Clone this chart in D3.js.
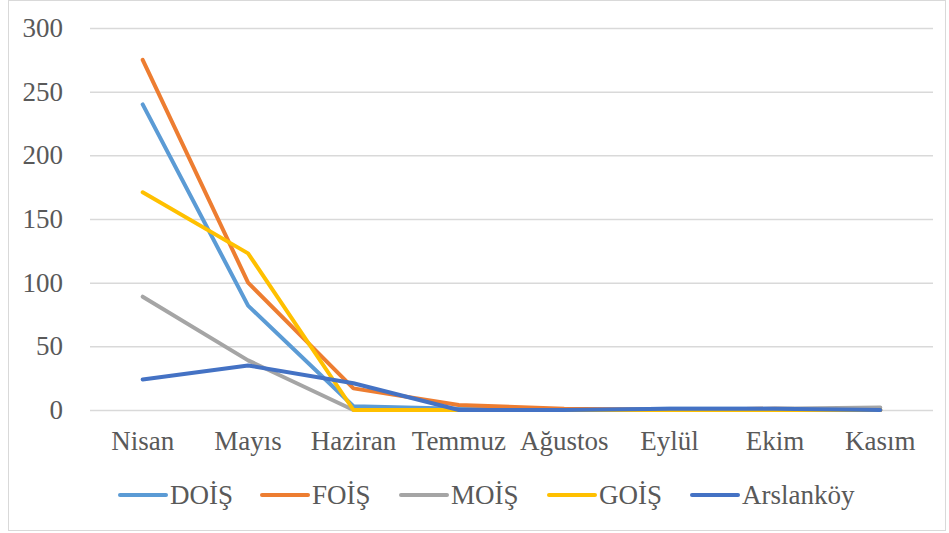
<!DOCTYPE html>
<html>
<head>
<meta charset="utf-8">
<script src="https://cdn.jsdelivr.net/npm/d3@7"></script>
<style>
  body { margin: 0; background: #fff; }
</style>
</head>
<body>
<svg id="chart" width="949" height="533"></svg>
<script>
"use strict";

var FONT = "Liberation Serif";

// months on the x axis
var months = ["Nisan", "Mayıs", "Haziran", "Temmuz", "Ağustos", "Eylül", "Ekim", "Kasım"];
var yTicks = [0, 50, 100, 150, 200, 250, 300];

// series names and values
var seriesNames = ["DOİŞ", "FOİŞ", "MOİŞ", "GOİŞ", "Arslanköy"];
var doisValues = [240, 82, 3, 1, 0, 1, 1, 0];
var foisValues = [275, 100, 17, 4, 1, 0, 1, 0];
var moisValues = [89, 39, 0, 0, 0, 0, 1, 2];
var goisValues = [171, 123, 0, 0, 0, 0, 0, 0];
var arslankoyValues = [24, 35, 21, 0, 0, 1, 1, 0];

var colors = ["#5B9BD5", "#ED7D31", "#A5A5A5", "#FFC000", "#4472C4"];

var series = seriesNames.map(function(name, i) {
  return { name: name, values: [doisValues, foisValues, moisValues, goisValues, arslankoyValues][i], color: colors[i] };
});

var svg = d3.select("#chart").attr("font-family", FONT);

// chart border
svg.append("rect")
  .attr("x", 8.5).attr("y", 0.5)
  .attr("width", 937).attr("height", 530)
  .attr("fill", "none")
  .attr("stroke", "#D9D9D9")
  .attr("stroke-width", 1);

var plotLeft = 90, plotRight = 933, plotTop = 28, plotBottom = 410;

var x = d3.scaleBand().domain(months).range([plotLeft, plotRight]);
var y = d3.scaleLinear().domain([0, 300]).range([plotBottom, plotTop]);

// gridlines + y labels
var yAxis = d3.axisLeft(y).tickValues(yTicks).tickSize(-(plotRight - plotLeft)).tickPadding(27);
var gy = svg.append("g").attr("transform", "translate(" + plotLeft + ",0)").call(yAxis);
gy.attr("font-family", FONT).attr("font-size", 27);
gy.select(".domain").remove();
gy.selectAll(".tick line").attr("stroke", "#D9D9D9").attr("stroke-width", 1.5);
gy.selectAll(".tick text").attr("fill", "#595959");

// x labels
var xAxis = d3.axisBottom(x).tickSize(0).tickPadding(21);
var gx = svg.append("g").attr("transform", "translate(0," + plotBottom + ")").call(xAxis);
gx.attr("font-family", FONT).attr("font-size", 27);
gx.select(".domain").remove();
gx.selectAll(".tick text").attr("fill", "#595959");

// lines
var line = d3.line()
  .x(function(d, i) { return x(months[i]) + x.bandwidth() / 2; })
  .y(function(d) { return y(d); });

svg.selectAll(".series")
  .data(series)
  .enter()
  .append("path")
  .attr("class", "series")
  .attr("d", function(d) { return line(d.values); })
  .attr("fill", "none")
  .attr("stroke", function(d) { return d.color; })
  .attr("stroke-width", 4)
  .attr("stroke-linejoin", "round")
  .attr("stroke-linecap", "round");

// legend
var legendX = [120, 262, 401, 549, 692];
var legend = svg.selectAll(".legend")
  .data(series)
  .enter()
  .append("g")
  .attr("class", "legend")
  .attr("transform", function(d, i) { return "translate(" + legendX[i] + ",495)"; });

legend.append("line")
  .attr("x1", 0).attr("x2", 46)
  .attr("y1", 0).attr("y2", 0)
  .attr("stroke", function(d) { return d.color; })
  .attr("stroke-width", 4)
  .attr("stroke-linecap", "round");

legend.append("text")
  .attr("x", 50)
  .attr("y", 9)
  .attr("font-size", 27)
  .attr("fill", "#595959")
  .text(function(d) { return d.name; });
</script>
</body>
</html>
